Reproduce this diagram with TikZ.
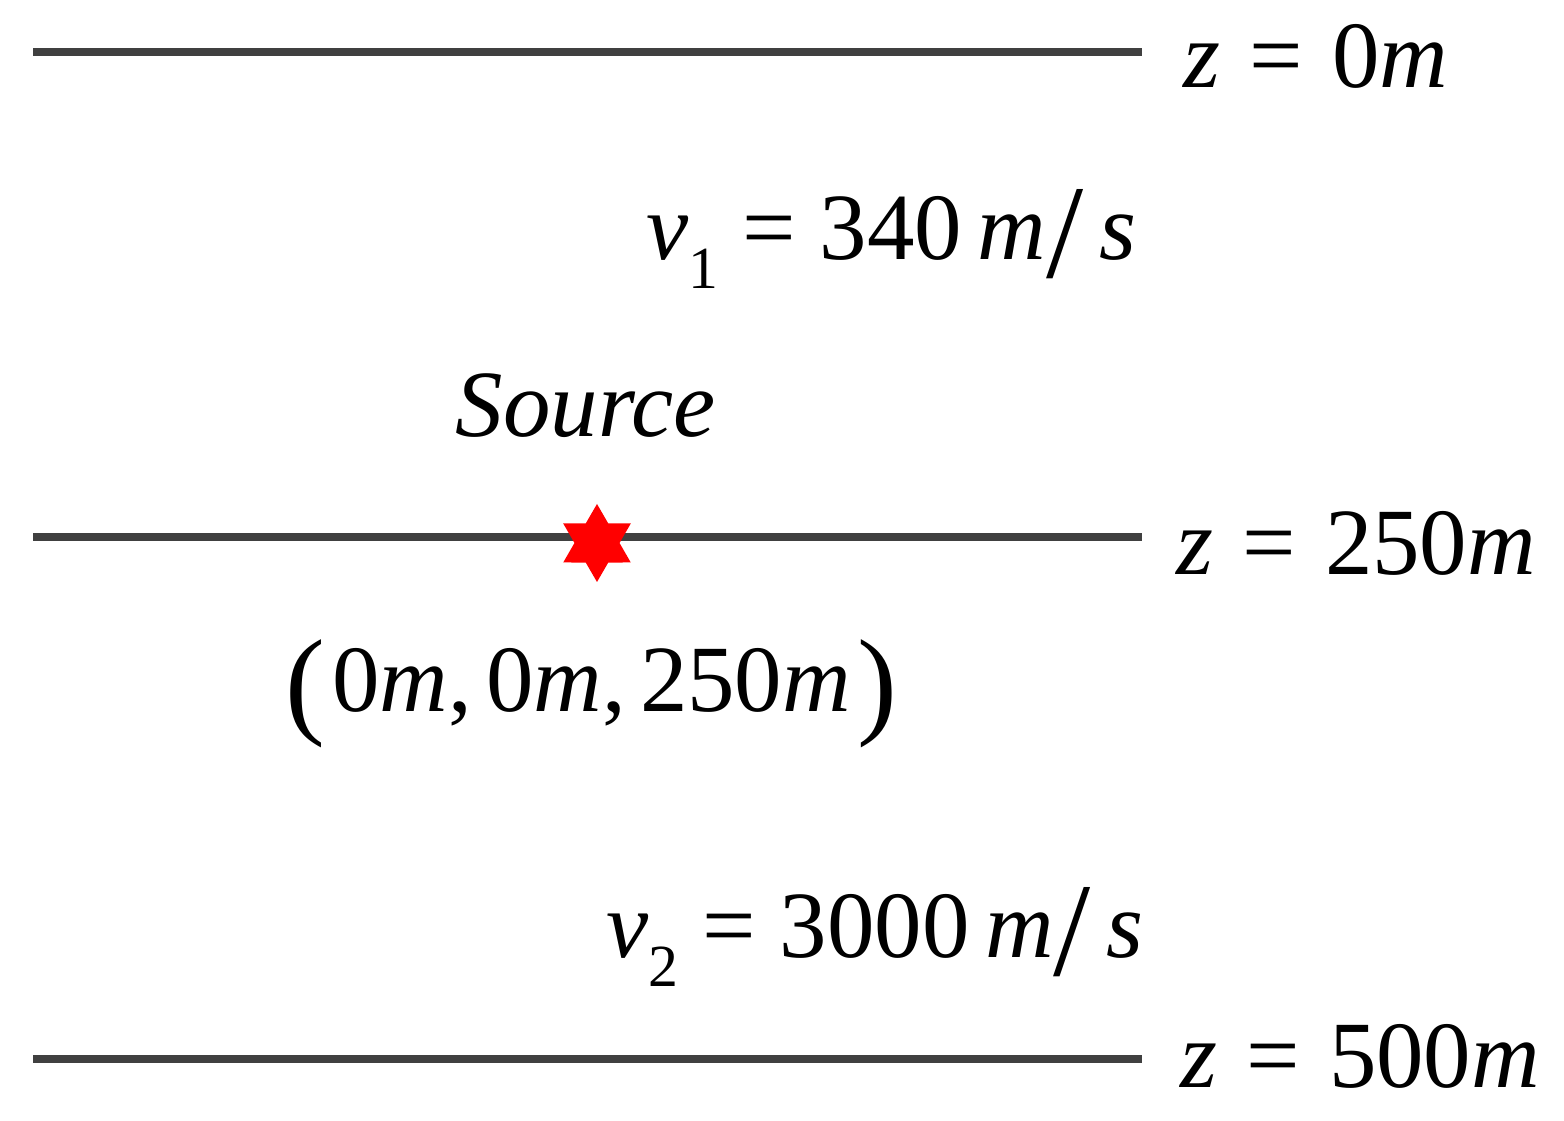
\documentclass[tikz,border=0pt]{standalone}
\usepackage{fontspec}
\setmainfont{Liberation Serif}
\usepackage{tikz}
\usetikzlibrary{shapes.geometric}

\newcommand{\lsub}[1]{\raisebox{-8pt}{\fontsize{17pt}{17pt}\selectfont #1}}
\newcommand{\lslash}{\raisebox{-5pt}{\fontsize{38pt}{38pt}\selectfont /}}
\newcommand{\lparen}[1]{\raisebox{-3pt}{\fontsize{34pt}{34pt}\selectfont #1}}
\newcommand{\lequal}{\hspace{1.5pt}=\hspace{1.5pt}}

\begin{document}
\begin{tikzpicture}[every node/.style={anchor=base west, inner sep=0pt, font=\fontsize{27pt}{27pt}\selectfont}]
        \tikzset{layer/.style={line width=2.3pt, color=black!75}}
        \tikzset{source/.style={star, star points=6, star point ratio=1.73, fill=red, draw=none, minimum size=0.78cm, inner sep=0pt}}
        \useasboundingbox (0,0) rectangle (15.64,-11.21);
        % interfaces
        \coordinate (top l) at (0.33,-0.52);
        \coordinate (top r) at (11.42,-0.52);
        \coordinate (mid l) at (0.33,-5.37);
        \coordinate (mid r) at (11.42,-5.37);
        \coordinate (bot l) at (0.33,-10.59);
        \coordinate (bot r) at (11.42,-10.59);
        \draw[layer] (top l) -- (top r);
        \draw[layer] (mid l) -- (mid r);
        \draw[layer] (bot l) -- (bot r);
        % depth labels
        \node (z0) at (11.83,-0.88) {\textit{z} \lequal{} 0\textit{m}};
        \node (z250) at (11.76,-5.75) {\textit{z} \lequal{} 250\textit{m}};
        \node (z500) at (11.80,-10.88) {\textit{z} \lequal{} 500\textit{m}};
        % velocities
        \node (v1) at (6.46,-2.60) {\textit{v}\lsub{1} = 340\,\textit{m}\lslash\,\textit{s}};
        \node (v2) at (6.06,-9.58) {\textit{v}\lsub{2} = 3000\,\textit{m}\lslash\,\textit{s}};
        % source
        \node (srclabel) at (4.55,-4.37) {\textit{Source}\hspace{1pt}};
        \node[source, anchor=center] (src) at (5.97,-5.43) {};
        \node (srcpos) at (2.85,-7.12) {\lparen{(}\hspace{2pt}0\textit{m},\hspace{4pt}0\textit{m},\hspace{4pt}250\textit{m}\hspace{2pt}\lparen{)}};
\end{tikzpicture}
\end{document}
